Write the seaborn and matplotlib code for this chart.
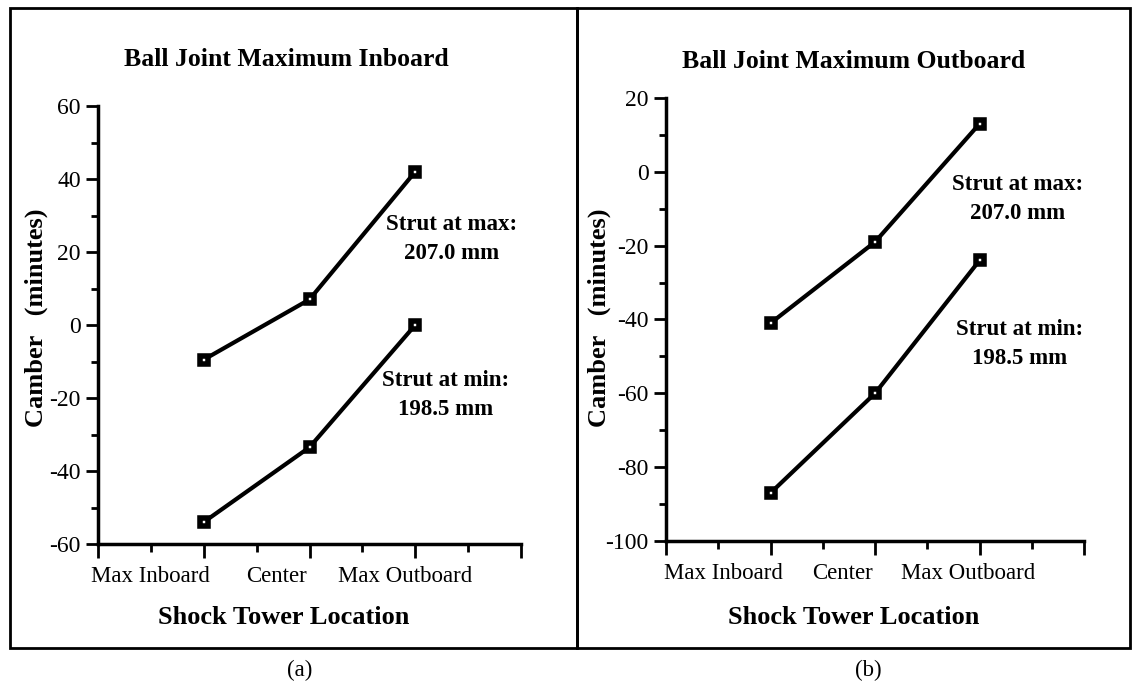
import matplotlib
matplotlib.use("Agg")
import matplotlib.pyplot as plt
import seaborn as sns
import pandas as pd
from matplotlib.patches import Rectangle
from matplotlib.ticker import MultipleLocator

# ---- data ----
locations = ["Max Inboard", "Center", "Max Outboard"]
inboard_max = [-9.5, 7, 42]       # strut at max 207.0 mm
inboard_min = [-54, -33.5, 0]     # strut at min 198.5 mm
outboard_max = [-41, -19, 13]
outboard_min = [-87, -60, -24]
titles = ["Ball Joint Maximum Inboard", "Ball Joint Maximum Outboard"]
panel_tags = ["(a)", "(b)"]
max_label = "Strut at max:\n207.0 mm"
min_label = "Strut at min:\n198.5 mm"
y_label = "Camber   (minutes)"
x_label = "Shock Tower Location"

sns.set_theme(style="ticks")
plt.rcParams["font.family"] = ["Liberation Serif", "DejaVu Serif"]

W, H = 1136, 686
fig = plt.figure(figsize=(W / 100, H / 100), dpi=100)

def fx(px):
    return px / W

def fy(py):
    return 1 - py / H

# frames around panels
for x0, x1 in [(10, 577), (577, 1130)]:
    fig.patches.append(Rectangle((fx(x0), fy(648)), fx(x1) - fx(x0), fy(8) - fy(648),
                                 transform=fig.transFigure, fill=False,
                                 edgecolor="black", linewidth=2.0))

panels = [
    dict(rect=[fx(98), fy(544), fx(521) - fx(98), fy(106) - fy(544)],
         ylim=(-60, 60), series=(inboard_max, inboard_min),
         tickpos=[0.50, 1.69, 2.90],
         title_xy=(286, 60), maxt=(452, 239), mint=(446, 395),
         ylab_x=36, xlab_x=284, tag_x=300),
    dict(rect=[fx(666), fy(541), fx(1084) - fx(666), fy(98) - fy(541)],
         ylim=(-100, 20), series=(outboard_max, outboard_min),
         tickpos=[0.55, 1.69, 2.89],
         title_xy=(854, 62), maxt=(1018, 199), mint=(1020, 344),
         ylab_x=599, xlab_x=854, tag_x=868),
]

for i, p in enumerate(panels):
    ax = fig.add_axes(p["rect"])
    xs = [locations.index(c) + 1 for c in locations]
    for vals in p["series"]:
        df = pd.DataFrame({"x": xs, "y": vals})
        sns.lineplot(data=df, x="x", y="y", ax=ax, color="black", linewidth=3,
                     marker="s", markersize=6, markeredgewidth=4,
                     markeredgecolor="black", markerfacecolor="white",
                     legend=False)
    ax.set_xlim(0, 4)
    ax.set_ylim(*p["ylim"])
    ax.yaxis.set_major_locator(MultipleLocator(20))
    ax.yaxis.set_minor_locator(MultipleLocator(10))
    ax.xaxis.set_major_locator(MultipleLocator(1))
    ax.xaxis.set_minor_locator(MultipleLocator(0.5))
    ax.set_xticklabels([])
    ax.tick_params(axis="both", which="major", direction="out", length=9, width=2,
                   color="black", labelsize=17, labelcolor="black")
    ax.tick_params(axis="both", which="minor", direction="out", length=5, width=2,
                   color="black")
    ax.tick_params(axis="x", which="major", length=10)
    ax.tick_params(axis="x", which="minor", length=6)
    ax.set_yticklabels([f"{int(v)}" for v in ax.get_yticks()])
    for side in ["top", "right"]:
        ax.spines[side].set_visible(False)
    for side in ["left", "bottom"]:
        ax.spines[side].set_linewidth(2.5)
        ax.spines[side].set_color("black")
    ax.set_facecolor("white")
    ax.set_xlabel("")
    ax.set_ylabel("")
    # category labels
    for pos, lab in zip(p["tickpos"], locations):
        ax.text(pos, -0.05, lab, transform=ax.get_xaxis_transform(),
                ha="center", va="top", fontsize=16.5, color="black")
    # texts in figure coords
    fig.text(fx(p["title_xy"][0]), fy(p["title_xy"][1]), titles[i], ha="center",
             va="center", fontsize=18.5, fontweight="bold", color="black")
    fig.text(fx(p["maxt"][0]), fy(p["maxt"][1]), max_label, ha="center", va="center",
             fontsize=16.5, fontweight="bold", color="black", linespacing=1.45)
    fig.text(fx(p["mint"][0]), fy(p["mint"][1]), min_label, ha="center", va="center",
             fontsize=16.5, fontweight="bold", color="black", linespacing=1.45)
    fig.text(fx(p["ylab_x"]), fy(318), y_label, rotation=90, ha="center",
             va="center", fontsize=19, fontweight="bold", color="black")
    fig.text(fx(p["xlab_x"]), fy(617), x_label, ha="center", va="center",
             fontsize=19, fontweight="bold", color="black")
    fig.text(fx(p["tag_x"]), fy(670), panel_tags[i], ha="center", va="center",
             fontsize=16.5, color="black")

fig.savefig("out.png", dpi=100, facecolor="white")
